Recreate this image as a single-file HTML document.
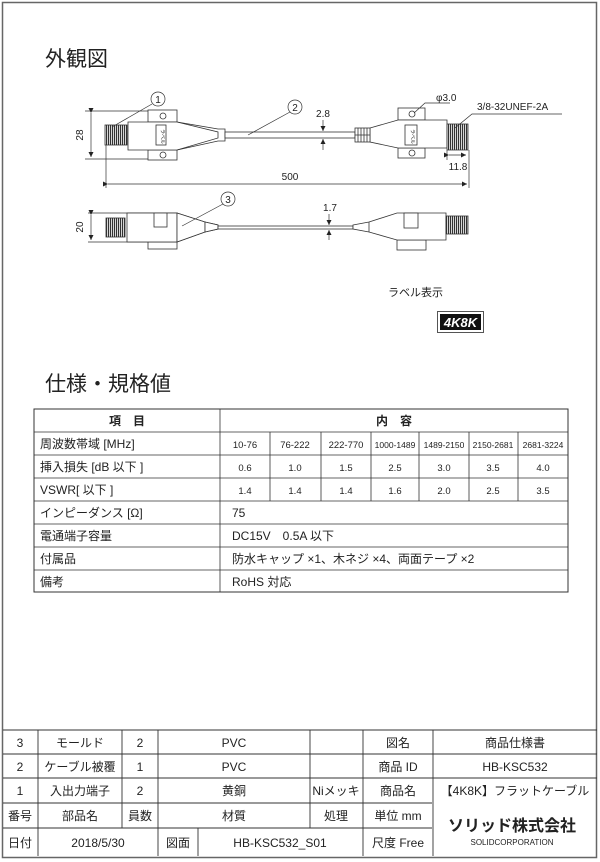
<!DOCTYPE html>
<html><head><meta charset="utf-8"><style>
body{margin:0;background:#fff;}
#p{position:relative;width:600px;height:862px;overflow:hidden;font-family:"Liberation Sans","Noto Sans CJK JP",sans-serif;color:#222;}
svg{position:absolute;left:0;top:0;}
text{font-family:"Liberation Sans","Noto Sans CJK JP",sans-serif;fill:#222;}
</style></head><body><div id="p">
<svg width="600" height="862" viewBox="0 0 600 862">
<defs>
<pattern id="th" width="2" height="4" patternUnits="userSpaceOnUse"><rect width="2" height="4" fill="#fff"/><rect width="1.2" height="4" fill="#333"/></pattern>
<marker id="ar" markerWidth="6" markerHeight="6" refX="5" refY="3" orient="auto" markerUnits="userSpaceOnUse"><path d="M0,0.5 L5,3 L0,5.5 Z" fill="#222"/></marker>
</defs>
<rect x="2.5" y="2.5" width="594" height="855" fill="none" stroke="#666" stroke-width="1.5"/>
<text x="45" y="66" font-size="21">外観図</text>
<text x="45" y="391" font-size="21">仕様・規格値</text>

<g stroke="#333" stroke-width="0.8" fill="#fff">
<!-- top view left -->
<rect x="148" y="110" width="29" height="12"/>
<rect x="148" y="150" width="29" height="10"/>
<path d="M128,122 L177,122 L218,132 L218,138 L177,150 L128,150 Z"/>
<path d="M177,122 L218,129 L225,129 L225,141 L218,141 L177,150" fill="none"/>
<rect x="105" y="125" width="22" height="20" fill="url(#th)"/>
<rect x="156" y="125" width="10" height="20"/>
<circle cx="163" cy="116" r="3"/><circle cx="163" cy="155" r="3"/>
<!-- cable -->
<rect x="225" y="132" width="130" height="6"/>
<!-- right -->
<rect x="398" y="108" width="27" height="12"/>
<rect x="398" y="148" width="27" height="10"/>
<path d="M370,128 L398,120 L447,120 L447,148 L398,148 L370,142 Z"/>
<rect x="355" y="128" width="15" height="14"/>
<path d="M358,128 V142 M361,128 V142 M364,128 V142 M367,128 V142 M355,135 H370" fill="none"/>
<rect x="447" y="124" width="21" height="26" fill="url(#th)"/>
<rect x="405" y="125" width="12" height="20"/>
<circle cx="412" cy="114" r="3"/><circle cx="412" cy="153" r="3"/>
<!-- side view -->
<rect x="148" y="240" width="29" height="9"/>
<rect x="397" y="240" width="29" height="10"/>
<path d="M88,213 H177 L205,222 L218,225 L218,229 L205,232 L177,242 H88" fill="none"/>
<rect x="127" y="213" width="50" height="29"/>
<path d="M177,213 L205,222 L205,232 L177,242 Z"/>
<path d="M205,222 L218,225 L218,229 L205,232 Z"/>
<rect x="106" y="218" width="19" height="19" fill="url(#th)"/>
<rect x="154" y="213" width="13" height="14"/>
<rect x="218" y="226" width="135" height="3"/>
<path d="M353,225 L369,222 L397,213 L446,213 L446,240 L397,240 L369,232 L353,229 Z"/>
<path d="M369,222 V232" fill="none"/>
<rect x="404" y="213" width="14" height="15"/>
<rect x="446" y="216" width="22" height="18" fill="url(#th)"/>
</g>

<g stroke="#333" stroke-width="0.7" fill="none">
<!-- 28 dim -->
<path d="M85,111 H148 M85,159 H148"/>
<path d="M91,113 V157" marker-start="url(#ar)" marker-end="url(#ar)" transform=""/>
<!-- 500 -->
<path d="M106,145 V188 M469,150 V188"/>
<path d="M108,184 H467" marker-start="url(#ar)" marker-end="url(#ar)"/>
<!-- 11.8 -->
<path d="M447,150 V160"/>
<path d="M449,155 H466" marker-start="url(#ar)" marker-end="url(#ar)"/>
<!-- 2.8 -->
<path d="M323,120 V131" marker-end="url(#ar)"/>
<path d="M323,150 V139" marker-end="url(#ar)"/>
<!-- 1.7 -->
<path d="M329,214 V225" marker-end="url(#ar)"/>
<path d="M329,240 V230" marker-end="url(#ar)"/>
<!-- 20 -->
<path d="M91,215 V240" marker-start="url(#ar)" marker-end="url(#ar)"/>
<!-- leaders -->
<path d="M152,104 L112,127"/>
<path d="M290,112 L248,135"/>
<path d="M223,204 L182,226"/>
<path d="M414,113 L425,103 H450"/>
<path d="M455,128 L472,114 H562"/>
</g>
<g stroke="#333" stroke-width="0.7" fill="#fff">
<circle cx="158" cy="99" r="7"/><circle cx="295" cy="107" r="7"/><circle cx="228" cy="199" r="7"/>
</g>
<g font-size="10">
<text x="158" y="103" text-anchor="middle">1</text>
<text x="295" y="111" text-anchor="middle">2</text>
<text x="228" y="203" text-anchor="middle">3</text>
<text x="323" y="117" text-anchor="middle">2.8</text>
<text x="330" y="211" text-anchor="middle">1.7</text>
<text x="290" y="180" text-anchor="middle">500</text>
<text x="458" y="170" text-anchor="middle">11.8</text>
<text x="436" y="101">φ3.0</text>
<text x="477" y="110">3/8-32UNEF-2A</text>
<text transform="translate(83,135) rotate(-90)" text-anchor="middle">28</text>
<text transform="translate(83,227) rotate(-90)" text-anchor="middle">20</text>
</g>
<g font-size="5">
<text transform="translate(161,129) rotate(90)">ラベル</text>
<text transform="translate(411,129) rotate(90)">ラベル</text>
</g>
<text x="388" y="296" font-size="11">ラベル表示</text>
<rect x="437.5" y="311.5" width="46" height="21" fill="#fff" stroke="#555"/>
<rect x="440" y="314" width="41" height="16" fill="#111"/>
<text x="460.5" y="327" font-size="13" font-weight="bold" font-style="italic" text-anchor="middle" style="fill:#fff">4K8K</text>

<!-- spec table -->
<g stroke="#333" stroke-width="0.8" fill="none">
<rect x="34" y="409" width="534" height="183" stroke-width="1"/>
<path d="M34,432 H568 M34,455 H568 M34,478 H568 M34,501 H568 M34,524 H568 M34,547 H568 M34,570 H568"/>
<path d="M220,409 V592"/>
<path d="M270,432 V501 M321,432 V501 M371,432 V501 M419,432 V501 M469,432 V501 M518,432 V501"/>
</g>
<g font-size="12">
<text x="127" y="425" text-anchor="middle" font-weight="bold">項　目</text>
<text x="394" y="425" text-anchor="middle" font-weight="bold">内　容</text>
<text x="40" y="448">周波数帯域 [MHz]</text>
<text x="40" y="471">挿入損失 [dB 以下 ]</text>
<text x="40" y="494">VSWR[ 以下 ]</text>
<text x="40" y="517">インピーダンス [Ω]</text>
<text x="40" y="540">電通端子容量</text>
<text x="40" y="563">付属品</text>
<text x="40" y="586">備考</text>
<text x="232" y="517">75</text>
<text x="232" y="540">DC15V　0.5A 以下</text>
<text x="232" y="563">防水キャップ ×1、木ネジ ×4、両面テープ ×2</text>
<text x="232" y="586">RoHS 対応</text>
</g>
<g font-size="9.5" text-anchor="middle">
<text x="245" y="448">10-76</text><text x="295" y="448">76-222</text><text x="346" y="448">222-770</text>
<text x="395" y="448" font-size="8.5">1000-1489</text><text x="444" y="448" font-size="8.5">1489-2150</text><text x="493" y="448" font-size="8.5">2150-2681</text><text x="543" y="448" font-size="8.5">2681-3224</text>
<text x="245" y="471">0.6</text><text x="295" y="471">1.0</text><text x="346" y="471">1.5</text><text x="395" y="471">2.5</text><text x="444" y="471">3.0</text><text x="493" y="471">3.5</text><text x="543" y="471">4.0</text>
<text x="245" y="494">1.4</text><text x="295" y="494">1.4</text><text x="346" y="494">1.4</text><text x="395" y="494">1.6</text><text x="444" y="494">2.0</text><text x="493" y="494">2.5</text><text x="543" y="494">3.5</text>
</g>

<!-- bottom table -->
<g stroke="#333" stroke-width="0.9" fill="none">
<path d="M3,730 H597 M3,754 H597 M3,778 H597 M3,803 H432 M3,828 H432"/>
<path d="M38,730 V856 M122,730 V828 M158,730 V856 M310,730 V828 M363,730 V856 M433,730 V856 M198,828 V856"/>
</g>
<g font-size="12" text-anchor="middle">
<text x="20" y="747">3</text><text x="80" y="747">モールド</text><text x="140" y="747">2</text><text x="234" y="747">PVC</text><text x="398" y="747">図名</text><text x="515" y="747">商品仕様書</text>
<text x="20" y="771">2</text><text x="80" y="771">ケーブル被覆</text><text x="140" y="771">1</text><text x="234" y="771">PVC</text><text x="398" y="771">商品 ID</text><text x="515" y="771">HB-KSC532</text>
<text x="20" y="795">1</text><text x="80" y="795">入出力端子</text><text x="140" y="795">2</text><text x="234" y="795">黄銅</text><text x="336" y="795">Niメッキ</text><text x="398" y="795">商品名</text><text x="515" y="795">【4K8K】フラットケーブル</text>
<text x="20" y="820">番号</text><text x="80" y="820">部品名</text><text x="140" y="820">員数</text><text x="234" y="820">材質</text><text x="336" y="820">処理</text><text x="398" y="820">単位 mm</text>
<text x="20" y="847">日付</text><text x="98" y="847">2018/5/30</text><text x="178" y="847">図面</text><text x="280" y="847">HB-KSC532_S01</text><text x="398" y="847">尺度 Free</text>
<text x="512" y="831" font-size="16" font-weight="bold">ソリッド株式会社</text>
<text x="512" y="845" font-size="8">SOLIDCORPORATION</text>
</g>
</svg>
</div></body></html>
